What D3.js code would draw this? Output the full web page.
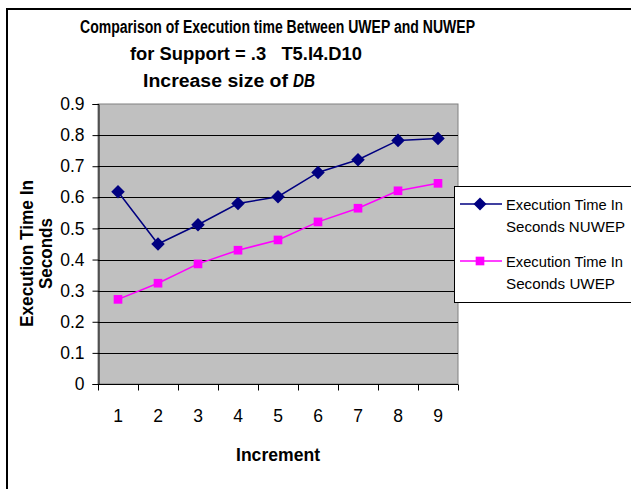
<!DOCTYPE html>
<html>
<head>
<meta charset="utf-8">
<script src="https://cdn.jsdelivr.net/npm/d3@7/dist/d3.min.js"></script>
<style>
  html, body { margin: 0; padding: 0; background: #fff; }
  svg { display: block; }
</style>
</head>
<body>
<svg id="chart" width="631" height="489"></svg>
<script>
// Chart data
const increments = ["1", "2", "3", "4", "5", "6", "7", "8", "9"];
const nuwepTimes = [0.618, 0.45, 0.512, 0.58, 0.602, 0.68, 0.721, 0.783, 0.789];
const uwepTimes  = [0.272, 0.324, 0.386, 0.43, 0.463, 0.521, 0.565, 0.621, 0.645];
const yTicks = [0, 0.1, 0.2, 0.3, 0.4, 0.5, 0.6, 0.7, 0.8, 0.9];
const seriesNames = [
  ["Execution Time In", "Seconds NUWEP"],
  ["Execution Time In", "Seconds UWEP"]
];
const titleLines = [
  "Comparison of Execution time Between UWEP and NUWEP",
  "for Support = .3   T5.I4.D10",
  "Increase size of",
  "DB"
];

const svg = d3.select("#chart");
const plot = { left: 98, right: 458, top: 104, bottom: 384 };
const sans = "'Liberation Sans', Arial, sans-serif";

// squeeze a text element to a fixed width (condensed look)
function fit(sel, w) {
  return sel.attr("textLength", w).attr("lengthAdjust", "spacingAndGlyphs");
}

// outer chart frame (runs off the right and bottom edges)
svg.append("rect")
  .attr("x", 7).attr("y", 9).attr("width", 700).attr("height", 600)
  .attr("fill", "#fff").attr("stroke", "#000").attr("stroke-width", 2);

const x = d3.scaleBand().domain(increments).range([plot.left, plot.right]);
const y = d3.scaleLinear().domain([0, 0.9]).range([plot.bottom, plot.top]);

// plot background
svg.append("rect")
  .attr("x", plot.left).attr("y", plot.top)
  .attr("width", plot.right - plot.left).attr("height", plot.bottom - plot.top)
  .attr("fill", "#c0c0c0").attr("stroke", "#808080").attr("stroke-width", 1);

// horizontal gridlines
svg.append("g").selectAll("line")
  .data(yTicks.filter(t => t > 0 && t < 0.9))
  .join("line")
  .attr("x1", plot.left).attr("x2", plot.right)
  .attr("y1", d => Math.round(y(d)) + 0.5).attr("y2", d => Math.round(y(d)) + 0.5)
  .attr("stroke", "#000").attr("stroke-width", 1);

// y axis
const yAxis = svg.append("g")
  .attr("transform", `translate(${plot.left + 0.5},0)`)
  .call(d3.axisLeft(y).tickValues(yTicks).tickFormat(d => d === 0 ? "0" : d3.format(".1f")(d))
    .tickSize(6).tickPadding(8));
yAxis.select(".domain").attr("stroke", "#000");
yAxis.selectAll("text")
  .attr("font-family", sans)
  .attr("font-size", 17.5).attr("fill", "#000");

// x axis with ticks on band edges
const xAxisG = svg.append("g").attr("transform", `translate(0,${plot.bottom + 0.5})`);
xAxisG.append("line")
  .attr("x1", plot.left).attr("x2", plot.right)
  .attr("stroke", "#000");
const edges = increments.map(d => x(d)).concat([x(increments[increments.length - 1]) + x.bandwidth()]);
xAxisG.selectAll("line.tick").data(edges).join("line")
  .attr("class", "tick")
  .attr("x1", d => Math.round(d) + 0.5).attr("x2", d => Math.round(d) + 0.5)
  .attr("y1", 0).attr("y2", 6).attr("stroke", "#000");
xAxisG.selectAll("text").data(increments).join("text")
  .attr("x", d => x(d) + x.bandwidth() / 2)
  .attr("y", 37)
  .attr("text-anchor", "middle")
  .attr("font-family", sans)
  .attr("font-size", 17.5).attr("fill", "#000")
  .text(d => d);

// lines and markers
const cx = d => x(d) + x.bandwidth() / 2;
const lineGen = d3.line().x((d, i) => cx(increments[i])).y(d => y(d));

svg.append("path").datum(uwepTimes)
  .attr("d", lineGen).attr("fill", "none")
  .attr("stroke", "#ff00ff").attr("stroke-width", 1.5);
svg.append("path").datum(nuwepTimes)
  .attr("d", lineGen).attr("fill", "none")
  .attr("stroke", "#000080").attr("stroke-width", 1.5);

const diamond = d3.symbol().type(d3.symbolDiamond2).size(75);
const square = d3.symbol().type(d3.symbolSquare).size(75);

svg.append("g").selectAll("path").data(uwepTimes).join("path")
  .attr("d", square)
  .attr("transform", (d, i) => `translate(${cx(increments[i])},${y(d)})`)
  .attr("fill", "#ff00ff");
svg.append("g").selectAll("path").data(nuwepTimes).join("path")
  .attr("d", diamond)
  .attr("transform", (d, i) => `translate(${cx(increments[i])},${y(d)}) scale(1.25)`)
  .attr("fill", "#000080");

// title
const title = svg.append("g").attr("font-family", sans)
  .attr("font-weight", "bold").attr("font-size", 18).attr("fill", "#000");
fit(title.append("text").attr("x", 80).attr("y", 33).text(titleLines[0]), 395);
fit(title.append("text").attr("x", 130).attr("y", 60).attr("xml:space", "preserve").text(titleLines[1]), 232);
fit(title.append("text").attr("x", 143).attr("y", 87).text(titleLines[2]), 145);
fit(title.append("text").attr("x", 293).attr("y", 87).attr("font-style", "italic").text(titleLines[3]), 22);

// axis titles
fit(svg.append("text")
  .attr("x", 236).attr("y", 461)
  .attr("font-family", sans).attr("font-weight", "bold").attr("font-size", 18)
  .text("Increment"), 84);

const yTitle = svg.append("g")
  .attr("transform", "translate(0,253.5) rotate(-90)")
  .attr("text-anchor", "middle")
  .attr("font-family", sans).attr("font-weight", "bold").attr("font-size", 18);
fit(yTitle.append("text").attr("x", 0).attr("y", 33).text("Execution Time In"), 147);
fit(yTitle.append("text").attr("x", 0).attr("y", 52).text("Seconds"), 71);

// legend
const legend = svg.append("g");
legend.append("rect")
  .attr("x", 454.5).attr("y", 186.5).attr("width", 200).attr("height", 116)
  .attr("fill", "#fff").attr("stroke", "#000").attr("stroke-width", 1);

const legendItems = [
  { names: seriesNames[0], widths: [117, 119], color: "#000080", sym: diamond, scale: 1.2, cy: 204 },
  { names: seriesNames[1], widths: [117, 109], color: "#ff00ff", sym: square, scale: 1, cy: 261 }
];
legendItems.forEach(item => {
  legend.append("line")
    .attr("x1", 460).attr("x2", 502).attr("y1", item.cy).attr("y2", item.cy)
    .attr("stroke", item.color).attr("stroke-width", 1.5);
  legend.append("path").attr("d", item.sym)
    .attr("transform", `translate(480,${item.cy}) scale(${item.scale})`)
    .attr("fill", item.color);
  item.names.forEach((name, k) => {
    fit(legend.append("text")
      .attr("x", 506).attr("y", item.cy + 6 + k * 22)
      .attr("font-family", sans).attr("font-size", 15).attr("fill", "#000")
      .text(name), item.widths[k]);
  });
});
</script>
</body>
</html>
